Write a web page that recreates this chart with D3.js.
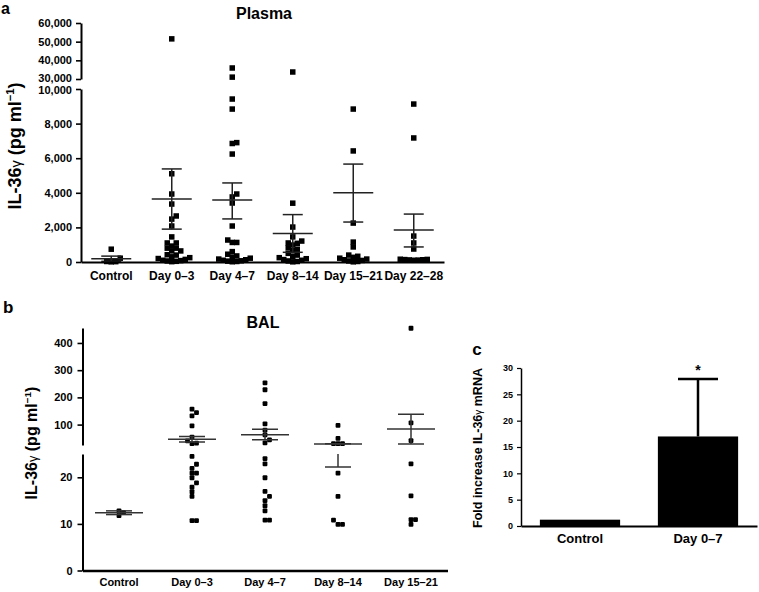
<!DOCTYPE html>
<html><head><meta charset="utf-8">
<script src="https://cdn.jsdelivr.net/npm/d3@7"></script>
<style>body{margin:0;background:#fff}</style>
</head><body><svg id="c" width="759" height="592"></svg>
<script>
// ---------- DATA ----------
// Panel a (Plasma)
const plasmaCats = ["Control", "Day 0–3", "Day 4–7", "Day 8–14", "Day 15–21", "Day 22–28"];
const plasmaControl = [740, 220, 30, 20, 10];
const plasmaDay0_3 = [51500, 5100, 3930, 3350, 2660, 2480, 2080, 1450, 1100, 1100, 920, 800, 800, 640, 640, 420, 400, 300, 250, 200, 150, 100, 80, 60, 40, 20];
const plasmaDay4_7 = [35900, 31000, 9420, 8840, 6900, 6850, 6240, 3930, 3760, 3410, 2080, 1270, 1130, 1130, 600, 450, 350, 280, 220, 170, 130, 100, 70, 50, 30, 15];
const plasmaDay8_14 = [33750, 3400, 2020, 1450, 1210, 1100, 1080, 980, 820, 740, 650, 500, 400, 320, 250, 190, 140, 100, 60, 30, 10];
const plasmaDay15_21 = [8840, 6420, 2250, 1150, 870, 400, 330, 270, 220, 170, 130, 90, 60, 30, 10];
const plasmaDay22_28 = [9130, 7170, 1500, 1100, 750, 100, 110, 120, 130, 140, 150, 160];
const plasmaMean  = [190, 3640, 3580, 1650, 4000, 1850];
const plasmaUpper = [340, 5380, 4570, 2740, 5660, 2770];
const plasmaLower = [40, 1900, 2490, 560, 2310, 870];
const plasmaTicksLow = [0, 2000, 4000, 6000, 8000, 10000];
const plasmaTicksHigh = [30000, 40000, 50000, 60000];

// Panel b (BAL)
const balCats = ["Control", "Day 0–3", "Day 4–7", "Day 8–14", "Day 15–21"];
const balControl = [12.8, 12.4, 11.8];
const balDay0_3 = [157, 144, 132, 95, 54, 40, 32, 30, 24.5, 22.8, 21.9, 20.9, 20.9, 19.9, 18.8, 17.9, 16.9, 15.9, 10.7, 10.7];
const balDay4_7 = [253, 228, 177, 103, 80, 62, 44, 33, 24.0, 22.9, 19.9, 17.0, 15.9, 15.0, 13.9, 12.8, 10.8, 10.8];
const balDay8_14 = [97, 49, 30, 30, 30, 20.9, 15.9, 10.8, 9.9, 9.9];
const balDay15_21 = [454, 106, 41, 22.9, 16.0, 10.9, 10.9, 9.9];
const balMean  = [12.4, 46, 63, 29, 84];
const balUpper = [12.8, 56, 83, 30, 138];
const balLower = [12.0, 36, 44, 22.2, 29];
const balTicksLow = [0, 10, 20];
const balTicksHigh = [100, 200, 300, 400];

// Panel c (mRNA)
const mrnaCats = ["Control", "Day 0–7"];
const mrnaValues = [1.2, 17.0];
const mrnaErrTop = [1.2, 27.9];
const mrnaTicks = [0, 5, 10, 15, 20, 25, 30];

// ---------- DRAWING ----------
const FONT = "Arial, 'Liberation Sans', Helvetica, sans-serif";
const svg = d3.select("#c");

function styleAxis(g, fs, sw) {
  g.attr("font-family", FONT);
  g.selectAll("path.domain").attr("stroke", "#000").attr("stroke-width", sw);
  g.selectAll(".tick line").attr("stroke", "#000").attr("stroke-width", sw * 0.8);
  g.selectAll(".tick text").attr("font-family", FONT).attr("font-size", fs)
    .attr("font-weight", "bold").attr("fill", "#000");
  return g;
}

// simple beeswarm layout: lowest values at centre, later ones pushed sideways
function swarm(values, cx, yf, sp) {
  const pts = values.map(v => ({ v, y: yf(v) })).sort((a, b) => a.v - b.v);
  const placed = [];
  pts.forEach(p => {
    for (let k = 0; k < 400; k++) {
      const off = (k % 2 === 1 ? 1 : -1) * Math.ceil(k / 2) * 0.5;
      const x = cx + off;
      const hit = placed.some(q => Math.abs(q.x - x) < sp && Math.abs(q.y - p.y) < sp);
      if (!hit) { p.x = x; placed.push(p); break; }
    }
  });
  return placed;
}

function ylabel(x, y, fs) {
  const t = svg.append("text")
    .attr("transform", `translate(${x},${y}) rotate(-90)`)
    .attr("text-anchor", "middle").attr("font-family", FONT)
    .attr("font-weight", "bold").attr("font-size", fs).attr("fill", "#000");
  t.append("tspan").text("IL-36");
  t.append("tspan").attr("font-weight", "normal").attr("font-size", fs * 0.8).text("γ");
  t.append("tspan").text(" (pg ml");
  t.append("tspan").attr("dy", -fs * 0.4).attr("font-size", fs * 0.62).text("−1");
  t.append("tspan").attr("dy", fs * 0.4).text(")");
}

function errBars(g, cats, xb, yf, mean, up, lo, meanW, capW) {
  cats.forEach((c, i) => {
    const cx = xb(c) + xb.bandwidth() / 2;
    g.append("line").attr("x1", cx).attr("x2", cx).attr("y1", yf(lo[i])).attr("y2", yf(up[i]));
    g.append("line").attr("x1", cx - meanW / 2).attr("x2", cx + meanW / 2).attr("y1", yf(mean[i])).attr("y2", yf(mean[i]));
    g.append("line").attr("x1", cx - capW / 2).attr("x2", cx + capW / 2).attr("y1", yf(up[i])).attr("y2", yf(up[i]));
    g.append("line").attr("x1", cx - capW / 2).attr("x2", cx + capW / 2).attr("y1", yf(lo[i])).attr("y2", yf(lo[i]));
  });
}

// ===== Panel a =====
const pxB = d3.scaleBand().domain(plasmaCats).range([81, 444]);
const pyLow = d3.scaleLinear().domain([0, 10000]).range([262, 89]);
const pyHigh = d3.scaleLinear().domain([30000, 60000]).range([79, 23]);
const py = v => v <= 10000 ? pyLow(v) : pyHigh(v);

svg.append("text").attr("x", 1).attr("y", 14).attr("font-family", FONT).attr("font-weight", "bold").attr("font-size", 16).text("a");
svg.append("text").attr("x", 264).attr("y", 19).attr("text-anchor", "middle").attr("font-family", FONT).attr("font-weight", "bold").attr("font-size", 16).text("Plasma");
ylabel(21, 146, 18);

const plasmaGroups = [plasmaControl, plasmaDay0_3, plasmaDay4_7, plasmaDay8_14, plasmaDay15_21, plasmaDay22_28];
const pa = svg.append("g");
plasmaGroups.forEach((vals, i) => {
  const cx = pxB(plasmaCats[i]) + pxB.bandwidth() / 2;
  const pts = swarm(vals, cx, py, 4.2);
  pa.selectAll(null).data(pts).enter().append("rect")
    .attr("x", d => d.x - 2.75).attr("y", d => d.y - 2.75)
    .attr("width", 5.5).attr("height", 5.5).attr("fill", "#000");
});
const pe = svg.append("g").attr("stroke", "#222").attr("stroke-width", 1.5);
errBars(pe, plasmaCats, pxB, py, plasmaMean, plasmaUpper, plasmaLower, 40, 20);

styleAxis(svg.append("g").attr("transform", "translate(81,0)")
  .call(d3.axisLeft(pyLow).tickValues(plasmaTicksLow).tickFormat(d3.format(",")).tickSize(5).tickSizeOuter(0).tickPadding(4)), 11, 2)
  .selectAll(".tick text").filter(d => d === 10000).attr("dy", "0.45em");
styleAxis(svg.append("g").attr("transform", "translate(81,0)")
  .call(d3.axisLeft(pyHigh).tickValues(plasmaTicksHigh).tickFormat(d3.format(",")).tickSize(5).tickSizeOuter(0).tickPadding(4)), 11, 2)
  .selectAll(".tick text").filter(d => d === 30000).attr("dy", "0.2em");
styleAxis(svg.append("g").attr("transform", "translate(0,262)")
  .call(d3.axisBottom(pxB).tickSize(0).tickSizeOuter(0).tickPadding(9)), 12, 2);

// ===== Panel b =====
const bxB = d3.scaleBand().domain(balCats).range([82.5, 447.5]);
const byLow = d3.scaleLinear().domain([0, 25]).range([570.5, 454]);
const byHigh = d3.scaleLinear().domain([25, 455]).range([445, 328]);
const by = v => v <= 25 ? byLow(v) : byHigh(v);

svg.append("text").attr("x", 3).attr("y", 313).attr("font-family", FONT).attr("font-weight", "bold").attr("font-size", 17).text("b");
svg.append("text").attr("x", 263).attr("y", 328).attr("text-anchor", "middle").attr("font-family", FONT).attr("font-weight", "bold").attr("font-size", 16).text("BAL");
ylabel(37, 443, 16);

const balGroups = [balControl, balDay0_3, balDay4_7, balDay8_14, balDay15_21];
const pb = svg.append("g");
balGroups.forEach((vals, i) => {
  const cx = bxB(balCats[i]) + bxB.bandwidth() / 2;
  const pts = swarm(vals, cx, by, 4.4);
  pb.selectAll(null).data(pts).enter().append("rect")
    .attr("x", d => d.x - 2.4).attr("y", d => d.y - 2.4).attr("rx", 1)
    .attr("width", 4.8).attr("height", 4.8).attr("fill", "#000");
});
const defs = svg.append("defs");
const cp = defs.append("clipPath").attr("id", "balclip");
cp.append("rect").attr("x", 82).attr("y", 320).attr("width", 380).attr("height", 125);
cp.append("rect").attr("x", 82).attr("y", 454).attr("width", 380).attr("height", 120);
const be = svg.append("g").attr("clip-path", "url(#balclip)").attr("stroke", "#333").attr("stroke-width", 1.5);
errBars(be, balCats, bxB, by, balMean, balUpper, balLower, 48, 26);

styleAxis(svg.append("g").attr("transform", "translate(82.5,0)")
  .call(d3.axisLeft(byLow).tickValues(balTicksLow).tickSize(5).tickSizeOuter(0).tickPadding(5)), 11, 2);
styleAxis(svg.append("g").attr("transform", "translate(82.5,0)")
  .call(d3.axisLeft(byHigh).tickValues(balTicksHigh).tickSize(5).tickSizeOuter(0).tickPadding(5)), 11, 2);
styleAxis(svg.append("g").attr("transform", "translate(0,570.5)")
  .call(d3.axisBottom(bxB).tickSize(0).tickSizeOuter(0).tickPadding(8)), 11, 2.5);

// ===== Panel c =====
const cxB = d3.scaleBand().domain(mrnaCats).range([521, 757]);
const cy = d3.scaleLinear().domain([0, 30]).range([526, 368]);
const barW = cxB.bandwidth() * 0.68;

svg.append("text").attr("x", 477).attr("y", 355).attr("text-anchor", "middle").attr("font-family", FONT).attr("font-weight", "bold").attr("font-size", 17).text("c");
const cl = svg.append("text").attr("transform", "translate(482,448) rotate(-90)")
  .attr("text-anchor", "middle").attr("font-family", FONT).attr("font-weight", "bold").attr("font-size", 12.5);
cl.append("tspan").text("Fold increase IL-36");
cl.append("tspan").attr("font-weight", "normal").attr("font-size", 10).text("γ");
cl.append("tspan").text(" mRNA");

const ce = svg.append("g").attr("stroke", "#000").attr("stroke-width", 2.5);
mrnaCats.forEach((c, i) => {
  const cx = cxB(c) + cxB.bandwidth() / 2;
  if (mrnaErrTop[i] > mrnaValues[i]) {
    ce.append("line").attr("x1", cx).attr("x2", cx).attr("y1", cy(mrnaValues[i])).attr("y2", cy(mrnaErrTop[i]));
    ce.append("line").attr("x1", cx - 20).attr("x2", cx + 20).attr("y1", cy(mrnaErrTop[i])).attr("y2", cy(mrnaErrTop[i]));
  }
});
svg.append("g").selectAll("rect").data(mrnaCats).enter().append("rect")
  .attr("x", (c) => cxB(c) + cxB.bandwidth() / 2 - barW / 2)
  .attr("y", (c, i) => cy(mrnaValues[i]))
  .attr("width", barW).attr("height", (c, i) => cy(0) - cy(mrnaValues[i]))
  .attr("fill", "#000");
svg.append("text").attr("x", cxB("Day 0–7") + cxB.bandwidth() / 2).attr("y", cy(mrnaErrTop[1]) - 4)
  .attr("text-anchor", "middle").attr("font-family", FONT).attr("font-weight", "bold").attr("font-size", 14).text("*");

styleAxis(svg.append("g").attr("transform", "translate(521,0)")
  .call(d3.axisLeft(cy).tickValues(mrnaTicks).tickSize(4).tickSizeOuter(0).tickPadding(4)), 9, 1.5);
styleAxis(svg.append("g").attr("transform", "translate(0,526)")
  .call(d3.axisBottom(cxB).tickSize(0).tickSizeOuter(0).tickPadding(8)), 13, 2);
</script>
</body></html>
